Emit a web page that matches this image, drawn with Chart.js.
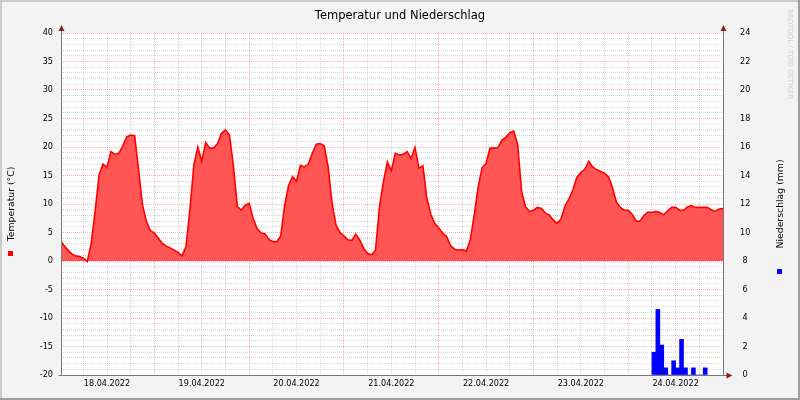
<!DOCTYPE html>
<html>
<head>
<meta charset="utf-8">
<script src="https://cdn.jsdelivr.net/npm/chart.js@4.4.1/dist/chart.umd.min.js"></script>
<style>
html,body{margin:0;padding:0;background:#F3F3F3;}
canvas{display:block;}
</style>
</head>
<body>
<canvas id="c" width="800" height="400"></canvas>
<script>
// ---- data ----
const chartTitle = 'Temperatur und Niederschlag';
const leftAxisTitle = 'Temperatur (°C)';
const rightAxisTitle = 'Niederschlag (mm)';
const watermark = 'RRDTOOL / TOBI OETIKER';
// day labels (shown at noon of each day); x unit = hours since 18.04.2022 00:00
const dayLabels = ['18.04.2022','19.04.2022','20.04.2022','21.04.2022','22.04.2022','23.04.2022','24.04.2022'];
const xStartHour = 0.35;
const xEndHour = 168;
// hourly temperature (°C), hour 0 .. 168
const temperature = [
  3.7, 2.8, 2.0, 1.3, 0.9, 0.8, 0.5, -0.1, 3.1, 8.8, 15.1, 17.0, 16.4, 19.2, 18.7, 18.9, 20.2, 21.8, 22.1, 22.0, 16.0, 9.8, 6.9, 5.3,
  4.9, 4.0, 3.1, 2.6, 2.3, 1.9, 1.5, 0.9, 2.5, 9.0, 16.8, 20.0, 17.5, 20.8, 19.8, 19.8, 20.6, 22.4, 23.0, 22.1, 16.8, 9.6, 8.9, 9.8,
  10.1, 7.5, 5.7, 4.9, 4.8, 3.8, 3.4, 3.4, 4.4, 9.8, 13.3, 14.8, 14.0, 16.8, 16.5, 17.0, 18.9, 20.5, 20.6, 20.2, 16.5, 10.1, 6.3, 5.0,
  4.4, 3.7, 3.6, 4.7, 3.7, 2.2, 1.3, 1.1, 1.9, 9.5, 13.9, 17.4, 15.8, 18.9, 18.6, 18.7, 19.2, 18.0, 19.9, 16.3, 16.7, 11.0, 8.2, 6.6,
  5.8, 4.9, 4.3, 2.7, 2.1, 1.9, 2.0, 1.7, 3.7, 8.1, 13.0, 16.4, 17.1, 19.8, 19.8, 19.9, 21.2, 21.7, 22.5, 22.8, 20.4, 12.2, 9.5, 8.7,
  8.9, 9.4, 9.2, 8.4, 8.1, 7.2, 6.6, 7.4, 9.7, 10.9, 12.5, 14.7, 15.5, 16.1, 17.5, 16.5, 16.0, 15.7, 15.4, 14.8, 12.9, 10.3, 9.4, 8.9,
  8.9, 8.2, 7.0, 7.0, 8.0, 8.6, 8.5, 8.7, 8.5, 8.1, 8.8, 9.4, 9.4, 8.9, 8.9, 9.5, 9.7, 9.4, 9.4, 9.4, 9.4, 9.0, 8.7, 9.1,
  9.2
];
// hourly precipitation (mm); each value covers one hour starting at the given hour
const rainStartHours = [150,151,152,153,154,155,156,157,158,159,160,161,162,163];
const rain = [1.6, 4.6, 2.1, 0.5, 0, 1.0, 0.5, 2.5, 0.5, 0, 0.5, 0, 0, 0.5];
// axis ranges
const tempMin = -20, tempMax = 40, tempMinorStep = 1, tempMajorStep = 5;
const rainMin = 0, rainMax = 24, rainStep = 2;
const xMinorStepHours = 6, dayHours = 24;

// ---- build ----
const tempPoints = temperature.map((t, i) => ({x: i, y: t}));
const rainPoints = rain.map((r, i) => ({x: rainStartHours[i] + 0.5, y: r}));

const MAJOR = 'rgba(235,90,90,0.45)';
const MINOR = 'rgba(160,160,160,0.42)';
const tickFont = {family: "'DejaVu Sans Condensed','Liberation Sans',sans-serif", size: 9};

const decor = {
  id: 'decor',
  beforeDraw(chart) {
    const {ctx, chartArea: a, width: W, height: H} = chart;
    ctx.save();
    ctx.fillStyle = '#F3F3F3';
    ctx.fillRect(0, 0, W, H);
    ctx.fillStyle = '#CBCBCB';
    ctx.fillRect(0, 0, W, 2);
    ctx.fillRect(0, 0, 2, H);
    ctx.fillStyle = '#9F9F9F';
    ctx.fillRect(0, H - 2, W, 2);
    ctx.fillRect(W - 2, 0, 2, H);
    ctx.fillStyle = '#FFFFFF';
    ctx.fillRect(a.left, a.top, a.right - a.left, a.bottom - a.top);
    ctx.restore();
  },
  afterDraw(chart) {
    const {ctx, chartArea: a, width: W} = chart;
    ctx.save();
    // axis lines
    ctx.strokeStyle = '#777777';
    ctx.lineWidth = 1;
    const L = Math.round(a.left) + 0.5, R = Math.round(a.right) + 0.5, B = Math.round(a.bottom) + 0.5;
    ctx.beginPath();
    ctx.moveTo(L, B); ctx.lineTo(L, a.top - 4);
    ctx.moveTo(R, B); ctx.lineTo(R, a.top - 4);
    ctx.moveTo(L - 3, B); ctx.lineTo(R + 4, B);
    ctx.stroke();
    // arrows
    ctx.fillStyle = '#8B1E1E';
    const up = (x) => { ctx.beginPath(); ctx.moveTo(x - 3, a.top - 2); ctx.lineTo(x + 3, a.top - 2); ctx.lineTo(x, a.top - 8); ctx.closePath(); ctx.fill(); };
    up(L); up(R);
    ctx.beginPath(); ctx.moveTo(R + 3, B - 3); ctx.lineTo(R + 3, B + 3); ctx.lineTo(R + 9, B); ctx.closePath(); ctx.fill();
    // title
    ctx.fillStyle = '#000000';
    ctx.textAlign = 'center';
    ctx.textBaseline = 'middle';
    ctx.font = "11.5px 'DejaVu Sans'";
    ctx.fillText(chartTitle, W / 2, 16);
    // axis titles
    const midY = (a.top + a.bottom) / 2;
    ctx.font = "9.3px 'DejaVu Sans'";
    ctx.save(); ctx.translate(12, midY); ctx.rotate(-Math.PI / 2); ctx.fillText(leftAxisTitle, 0, 0); ctx.restore();
    ctx.save(); ctx.translate(781, midY); ctx.rotate(-Math.PI / 2); ctx.fillText(rightAxisTitle, 0, 0); ctx.restore();
    // legend markers
    ctx.fillStyle = '#FF0000'; ctx.fillRect(8, 251, 5, 5);
    ctx.fillStyle = '#0000FF'; ctx.fillRect(777, 269, 5, 5);
    // watermark
    ctx.fillStyle = '#CFCFCF';
    ctx.font = "7px 'DejaVu Sans'";
    ctx.save(); ctx.translate(790, 54); ctx.rotate(Math.PI / 2); ctx.fillText(watermark, 0, 0); ctx.restore();
    ctx.restore();
  }
};

new Chart(document.getElementById('c'), {
  type: 'line',
  data: {
    datasets: [
      {
        type: 'line',
        label: 'Temperatur',
        data: tempPoints,
        yAxisID: 'y',
        borderColor: '#FF0000',
        borderWidth: 1.6,
        backgroundColor: '#FF5555',
        fill: 'origin',
        pointRadius: 0,
        tension: 0,
        order: 2
      },
      {
        type: 'bar',
        label: 'Niederschlag',
        data: rainPoints,
        yAxisID: 'y2',
        backgroundColor: '#0000FF',
        borderWidth: 0,
        barPercentage: 1.0,
        categoryPercentage: 1.0,
        grouped: false,
        order: 1
      }
    ]
  },
  options: {
    responsive: false,
    animation: false,
    devicePixelRatio: 1,
    layout: {padding: {top: 33, left: 0, right: 0, bottom: 0}},
    plugins: {legend: {display: false}, title: {display: false}, tooltip: {enabled: false}},
    scales: {
      x: {
        type: 'linear',
        min: xStartHour,
        max: xEndHour,
        offset: false,
        afterFit(s) { s.height = 25; },
        border: {display: false, dash: [1, 1]},
        grid: {
          offset: false,
          drawTicks: false,
          borderDash: [1, 1],
          color: (c) => (c.tick && c.tick.value % dayHours === 0) ? MAJOR : MINOR
        },
        ticks: {
          stepSize: xMinorStepHours,
          includeBounds: false,
          autoSkip: false,
          maxRotation: 0,
          padding: 3,
          color: '#000000',
          font: tickFont,
          callback: (v) => {
            const r = v - dayHours / 2;
            if (r >= 0 && r % dayHours === 0) return dayLabels[r / dayHours] || '';
            return '';
          }
        }
      },
      y: {
        type: 'linear',
        position: 'left',
        min: tempMin,
        max: tempMax,
        afterFit(s) { s.width = 61; },
        border: {display: false, dash: [1, 1]},
        grid: {
          drawTicks: false,
          borderDash: [1, 1],
          color: (c) => (c.tick && c.tick.value % tempMajorStep === 0) ? MAJOR : MINOR
        },
        ticks: {
          stepSize: tempMinorStep,
          autoSkip: false,
          padding: 8,
          color: '#000000',
          font: tickFont,
          callback: (v) => (v % tempMajorStep === 0) ? String(v) : ''
        }
      },
      y2: {
        type: 'linear',
        position: 'right',
        min: rainMin,
        max: rainMax,
        afterFit(s) { s.width = 77; },
        border: {display: false},
        grid: {drawOnChartArea: false, drawTicks: false},
        ticks: {
          stepSize: rainStep,
          autoSkip: false,
          padding: 17,
          crossAlign: 'center',
          color: '#000000',
          font: tickFont
        }
      }
    }
  },
  plugins: [decor]
});
</script>
</body>
</html>
